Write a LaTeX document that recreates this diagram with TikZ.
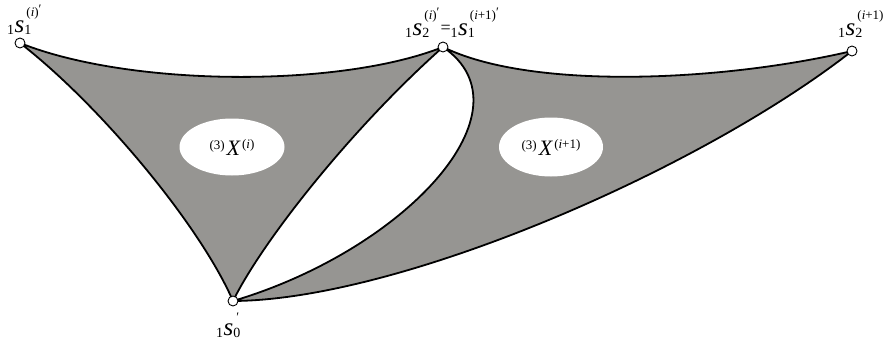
\documentclass[tikz,border=0pt]{standalone}
\usepackage{fontspec}
\setmainfont{Liberation Serif}
\usetikzlibrary{shapes.geometric}
\definecolor{shadegray}{RGB}{150,149,146}
\newcommand{\fbigs}{\fontsize{25}{25}\selectfont}
\newcommand{\fsubs}{\fontsize{14}{14}\selectfont}
\newcommand{\fsups}{\fontsize{13}{13}\selectfont}
\newcommand{\fxx}{\fontsize{22}{22}\selectfont}
\newcommand{\pr}{\raisebox{3pt}{\char"2032}}
% prescript 1, s, subscript #1, superscript #2
\newcommand{\vlab}[2]{\raisebox{-2pt}{\fsubs 1}\kern0.5pt{\fbigs\itshape s}\rlap{\raisebox{-2pt}{\fsubs #1}}\kern2pt\raisebox{16pt}{\fsups #2}}
\begin{document}
\begin{tikzpicture}[x=1pt,y=-1pt,
  edge/.style={line width=1.8pt, line join=round},
  vert/.style={circle, draw, fill=white, inner sep=0pt, minimum size=10pt, line width=0.9pt},
  blob/.style={ellipse, fill=white, inner sep=0pt},
  lab/.style={inner sep=0pt, anchor=base west}]
\useasboundingbox (0,0) rectangle (886,340);
\coordinate (A) at (20,43);
\coordinate (B) at (443,47);
\coordinate (C) at (852,51);
\coordinate (D) at (233,301);
% left triangle
\filldraw[fill=shadegray, edge] (A) .. controls (130,87) and (340,88) .. (B)
   .. controls (353,127) and (263,240) .. (D)
   .. controls (200,225) and (100,105) .. (A) -- cycle;
% right triangle
\filldraw[fill=shadegray, edge] (B) .. controls (530,90) and (720,82) .. (C)
   .. controls (700,170) and (400,300) .. (D)
   .. controls (405,250) and (535,110) .. (B) -- cycle;
% ellipses
\node[blob, minimum width=105pt, minimum height=57pt] (e1) at (232,147)
  {\raisebox{6pt}{\fsups (3)}\kern2pt{\fxx\itshape X}\kern2pt\raisebox{7pt}{\fsups (\textit{i})}};
\node[blob, minimum width=104pt, minimum height=59pt] (e2) at (551,147)
  {\raisebox{6pt}{\fsups (3)}\kern2pt{\fxx\itshape X}\kern2pt\raisebox{7pt}{\fsups (\textit{i}+1)}};
% vertices
\node[vert] (vA) at (A) {};
\node[vert] (vB) at (B) {};
\node[vert] (vC) at (C) {};
\node[vert] (vD) at (D) {};
% labels
\node[lab] (lA) at (7,32) {\vlab{1}{(\textit{i})\pr}};
\node[lab] (lB) at (405,35) {\vlab{2}{(\textit{i})\pr}\kern1pt\raisebox{2pt}{\fontsize{18}{18}\selectfont =}\vlab{1}{(\textit{i}+1)\pr}};
\node[lab] (lC) at (838,35) {\vlab{2}{(\textit{i}+1)}};
\node[lab] (lD) at (216,335) {\raisebox{-2pt}{\fsubs 1}\kern0.5pt{\fbigs\itshape s}\rlap{\raisebox{-2pt}{\fsubs 0}}\kern3pt\raisebox{14pt}{\fsups\char"2032}};
\end{tikzpicture}
\end{document}
